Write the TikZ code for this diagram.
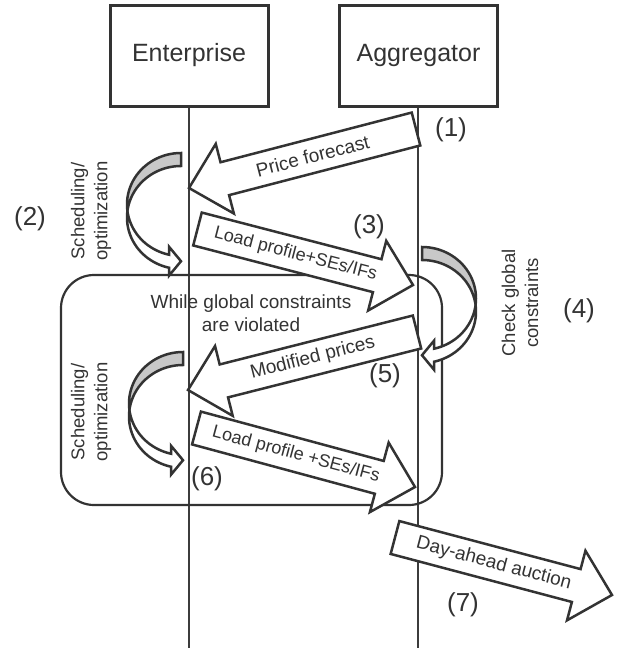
\documentclass[tikz,border=0pt]{standalone}
\usepackage{fontspec}
\setmainfont{Liberation Sans}
\usetikzlibrary{calc}

\definecolor{ink}{RGB}{51,51,51}
\definecolor{shade}{RGB}{200,200,200}
\definecolor{wire}{RGB}{60,60,60}

% geometry of the curved (turning) arrows
\def\TAth{13}   % band thickness
\def\TArx{54}   % horizontal radius
\def\TAry{51.5} % vertical radius
\def\TAhl{12}   % head length
\def\TAext{8}   % head overhang on each side of the band

% straight block arrow: [label options]{name}{tail}{tip}{label}
\newcommand\flowarrow[5][]{%
  \coordinate (#2-t) at #3;
  \coordinate (#2-p) at #4;
  \coordinate (#2-b) at ($(#2-p)!37pt!(#2-t)$);
  \filldraw[blockarrow]
    ($(#2-t)!17pt!90:(#2-p)$) -- ($(#2-b)!17pt!90:(#2-p)$) --
    ($(#2-b)!36pt!90:(#2-p)$) -- (#2-p) --
    ($(#2-b)!36pt!-90:(#2-p)$) -- ($(#2-b)!17pt!-90:(#2-p)$) --
    ($(#2-t)!17pt!-90:(#2-p)$) -- cycle;
  \path (#2-t) -- (#2-p) node[pos=0.455, sloped, arrowlabel, #1] (#2) {#5};
}

% curved arrow: {x of the ends}{top y}{1 = bulges left, -1 = bulges right}
\newcommand\turnarrow[3]{%
  \pgfmathsetmacro\tcA{#2+\TAry}
  \pgfmathsetmacro\tcB{\tcA+\TAth}
  \pgfmathsetmacro\ttA{180-asin(\TAth/(2*\TAry))}
  \pgfmathsetmacro\ttB{180+asin(\TAth/(2*\TAry))}
  \pgfmathsetmacro\ttH{acos(-\TAhl/\TArx)}
  \pgfmathsetmacro\tyA{\tcA+\TAry*sin(\ttH)}
  \pgfmathsetmacro\tyB{\tcB+\TAry*sin(\ttH)}
  \pgfmathsetmacro\txH{#1-(#3)*\TAhl}
  \pgfmathsetmacro\tyT{(\tyA+\tyB)/2}
  % visible back side of the band
  \filldraw[turnback]
    plot[domain=270:\ttA, samples=40] ({#1+(#3)*\TArx*cos(\x)},{\tcA+\TAry*sin(\x)}) --
    plot[domain=\ttB:270, samples=40] ({#1+(#3)*\TArx*cos(\x)},{\tcB+\TAry*sin(\x)}) -- cycle;
  % front of the band with its head
  \filldraw[turnfront]
    plot[domain=\ttB:\ttH, samples=40] ({#1+(#3)*\TArx*cos(\x)},{\tcB+\TAry*sin(\x)}) --
    ({\txH},{\tyB+\TAext}) -- ({#1},{\tyT}) -- ({\txH},{\tyA-\TAext}) --
    plot[domain=\ttH:\ttA, samples=40] ({#1+(#3)*\TArx*cos(\x)},{\tcA+\TAry*sin(\x)}) -- cycle;
}

\begin{document}
\begin{tikzpicture}[x=1pt, y=-1pt,
  box/.style={draw=ink, line width=3pt, fill=white, minimum width=158pt,
    minimum height=101pt, inner sep=0pt, text=ink, font=\fontsize{25}{30}\selectfont},
  lifeline/.style={draw=wire, line width=1.1pt},
  loopframe/.style={draw=ink, line width=2.2pt, rounded corners=33pt,
    minimum width=381pt, minimum height=230pt, inner sep=0pt},
  blockarrow/.style={draw=ink, fill=white, line width=2.5pt},
  arrowlabel/.style={text=ink, inner sep=0pt, font=\fontsize{19}{23}\selectfont},
  turnback/.style={draw=ink, fill=shade, line width=2.5pt},
  turnfront/.style={draw=ink, fill=white, line width=2.5pt},
  steplabel/.style={text=ink, inner sep=0pt, font=\fontsize{26}{30}\selectfont},
  note/.style={text=ink, inner sep=0pt, align=center, font=\fontsize{18.5}{23}\selectfont},
]
\useasboundingbox (0,0) rectangle (621,648);

% actors and their lifelines
\coordinate (entend) at (189,648);
\coordinate (aggend) at (418,648);
\draw[lifeline] (189,106) -- (entend);
\draw[lifeline] (418,106) -- (aggend);
\node[box] (ent) at (189,55.5) {Enterprise};
\node[box] (agg) at (418.5,55.5) {Aggregator};

% iteration frame
\node[loopframe] (loop) at (251.5,390) {};
\node[note, font=\fontsize{19}{23}\selectfont] (cond) at (251,313)
  {While global constraints\\are violated};

% messages
\flowarrow{price}{(416,129)}{(189,188)}{Price forecast}
\flowarrow[font=\fontsize{18}{22}\selectfont]{load}{(197.5,229)}{(413,285)}{Load profile+SEs/IFs}
\flowarrow{modprice}{(417,332)}{(188,390)}{Modified prices}
\flowarrow[font=\fontsize{18}{22}\selectfont]{reload}{(196.5,428)}{(415,487)}{Load profile +SEs/IFs}
\flowarrow{auction}{(395,537.5)}{(612,595)}{Day-ahead auction}

% local computations
\turnarrow{181}{153}{1}
\turnarrow{422}{247}{-1}
\turnarrow{183}{352}{1}

\node[note, rotate=90] (sched1) at (91,211) {Scheduling/\\optimization};
\node[note, rotate=90] (check) at (520,303) {Check global\\constraints};
\node[note, rotate=90] (sched2) at (91,412) {Scheduling/\\optimization};

% step numbers
\node[steplabel] (s1) at (451,130) {(1)};
\node[steplabel] (s2) at (30,219) {(2)};
\node[steplabel] (s3) at (369,227) {(3)};
\node[steplabel] (s4) at (579,311) {(4)};
\node[steplabel] (s5) at (385,376) {(5)};
\node[steplabel] (s6) at (207,479) {(6)};
\node[steplabel] (s7) at (463,605) {(7)};
\end{tikzpicture}
\end{document}
